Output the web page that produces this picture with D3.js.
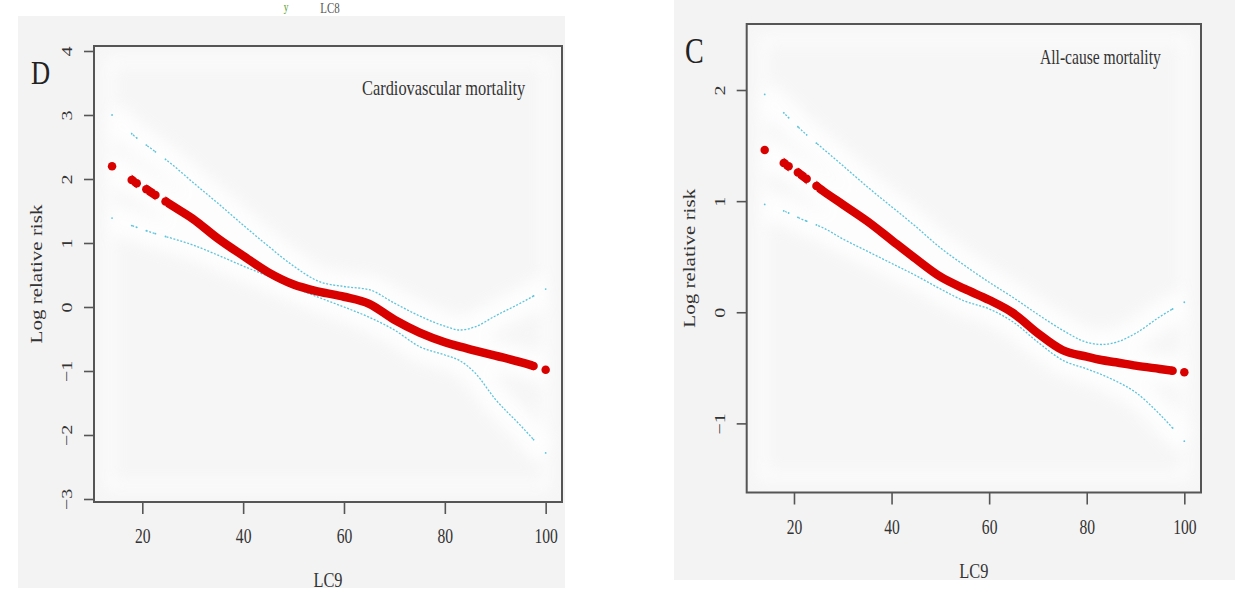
<!DOCTYPE html>
<html><head><meta charset="utf-8">
<script src="https://cdn.jsdelivr.net/npm/d3@7"></script>
<style>body{margin:0;background:#fff}svg{display:block}</style>
</head><body>
<svg id="c" width="1235" height="590"></svg>
<script>
// ---------------- data ----------------
const xTicks = [20, 40, 60, 80, 100];
const cvdYTicks = [-3, -2, -1, 0, 1, 2, 3, 4];
const allYTicks = [-1, 0, 1, 2];

const lc9Grid  = [14, 18, 22, 26, 30, 35, 40, 45, 50, 55, 60, 65, 70, 75, 80, 83, 86, 90, 95, 100];
const cvdFit   = [2.20, 1.98, 1.78, 1.58, 1.38, 1.07, 0.80, 0.54, 0.35, 0.24, 0.16, 0.05, -0.20, -0.40, -0.55, -0.62, -0.68, -0.76, -0.86, -0.98];
const cvdUpper = [3.00, 2.70, 2.46, 2.22, 1.95, 1.62, 1.28, 0.95, 0.64, 0.40, 0.32, 0.27, 0.06, -0.14, -0.30, -0.36, -0.31, -0.14, 0.06, 0.28];
const cvdLower = [1.39, 1.27, 1.16, 1.07, 0.97, 0.81, 0.64, 0.48, 0.31, 0.15, 0.00, -0.16, -0.36, -0.62, -0.75, -0.84, -1.03, -1.44, -1.85, -2.28];
const allFit   = [1.46, 1.34, 1.22, 1.09, 0.97, 0.82, 0.65, 0.48, 0.32, 0.21, 0.11, -0.01, -0.19, -0.34, -0.40, -0.43, -0.45, -0.48, -0.51, -0.54];
const allUpper = [1.96, 1.79, 1.62, 1.47, 1.32, 1.13, 0.95, 0.77, 0.58, 0.42, 0.27, 0.13, -0.02, -0.16, -0.27, -0.29, -0.27, -0.19, -0.04, 0.09];
const allLower = [0.97, 0.91, 0.83, 0.76, 0.66, 0.55, 0.44, 0.33, 0.21, 0.10, 0.03, -0.09, -0.27, -0.43, -0.51, -0.56, -0.62, -0.72, -0.92, -1.16];
// LC9 ranges where observations exist (curve drawn only there)
const observedRanges = [[14, 14], [17.9, 18.9], [20.8, 22.6], [24.6, 97.6], [100, 100]];

// ---------------- drawing ----------------
const svg = d3.select('#c');
const SQ = 0.78;
const FONT = '"Liberation Serif","Times New Roman","DejaVu Serif",serif';
const RED = '#d90000', BLUE = '#5cc4dc', INK = '#333';

const defs = svg.append('defs');
defs.append('filter').attr('id', 'blur').attr('x', '-20%').attr('y', '-20%').attr('width', '140%').attr('height', '140%')
  .append('feGaussianBlur').attr('stdDeviation', 7);

// stray text from the figure above
svg.append('text').attr('transform', `translate(286,11) scale(${SQ},1)`).attr('font-family', FONT)
  .attr('font-size', 12).attr('fill', '#5aa02c').attr('text-anchor', 'middle').text('y');
svg.append('text').attr('transform', `translate(330,13) scale(${SQ},1)`).attr('font-family', FONT)
  .attr('font-size', 14).attr('fill', '#555').attr('text-anchor', 'middle').text('LC8');

function txt(g, x, y, s, o) {
  return g.append('text')
    .attr('transform', `translate(${x},${y}) scale(${SQ},1)` + (o.rot ? ' rotate(-90)' : ''))
    .attr('text-anchor', o.anchor || 'middle')
    .attr('font-family', FONT).attr('font-size', o.size)
    .attr('fill', o.fill || INK).text(s);
}

function pointAtX(node, px) {
  const total = node.getTotalLength();
  let lo = 0, hi = total;
  for (let i = 0; i < 40; i++) {
    const m = (lo + hi) / 2;
    if (node.getPointAtLength(m).x < px) lo = m; else hi = m;
  }
  return node.getPointAtLength((lo + hi) / 2);
}

function panel(cfg) {
  const g = svg.append('g');
  g.append('rect').attr('x', cfg.bg[0]).attr('y', cfg.bg[1]).attr('width', cfg.bg[2]).attr('height', cfg.bg[3]).attr('fill', '#f3f3f3');

  const x = d3.scaleLinear().domain(cfg.xdom).range([cfg.x0, cfg.x1]);
  const y = d3.scaleLinear().domain(cfg.ydom).range([cfg.y1, cfg.y0]);

  g.append('rect').attr('x', cfg.x0).attr('y', cfg.y0).attr('width', cfg.x1 - cfg.x0).attr('height', cfg.y1 - cfg.y0).attr('fill', '#f6f6f6');

  const line = d3.line().x(d => x(d[0])).y(d => y(d[1])).curve(d3.curveMonotoneX);
  const fitPts = lc9Grid.map((v, i) => [v, cfg.fit[i]]);
  const upPts = lc9Grid.map((v, i) => [v, cfg.upper[i]]);
  const loPts = lc9Grid.map((v, i) => [v, cfg.lower[i]]);

  // soft white halo (background artefacts of the original)
  const halo = g.append('g').attr('filter', 'url(#blur)').attr('opacity', 0.85);
  halo.append('rect').attr('x', cfg.x0 + 16).attr('y', cfg.y0 + 16).attr('width', cfg.x1 - cfg.x0 - 32).attr('height', cfg.y1 - cfg.y0 - 32)
    .attr('fill', 'none').attr('stroke', '#fff').attr('stroke-width', 8);
  [upPts, loPts, fitPts].forEach(p => halo.append('path').attr('d', line(p)).attr('fill', 'none').attr('stroke', '#fff').attr('stroke-width', 30));

  // clip to observed ranges
  const cid = 'clip' + cfg.id;
  const cp = defs.append('clipPath').attr('id', cid);
  observedRanges.filter(r => r[1] > r[0]).forEach(r => {
    cp.append('rect').attr('x', x(r[0])).attr('y', cfg.y0).attr('width', x(r[1]) - x(r[0])).attr('height', cfg.y1 - cfg.y0);
  });

  function drawCurve(pts, stroke, width, dash, capR) {
    const p = g.append('path').attr('d', line(pts)).attr('fill', 'none').attr('stroke', stroke)
      .attr('stroke-width', width).attr('clip-path', `url(#${cid})`);
    if (dash) p.attr('stroke-dasharray', dash);
    const node = p.node();
    observedRanges.forEach(r => {
      const ends = r[1] > r[0] ? [r[0], r[1]] : [r[0]];
      ends.forEach(v => {
        const pt = pointAtX(node, x(v));
        g.append('circle').attr('cx', pt.x).attr('cy', pt.y).attr('r', capR).attr('fill', stroke);
      });
    });
  }
  drawCurve(upPts, BLUE, 1.3, '2,1.6', 0.9);
  drawCurve(loPts, BLUE, 1.3, '2,1.6', 0.9);
  drawCurve(fitPts, RED, 8.5, null, 4.25);

  // frame
  g.append('rect').attr('x', cfg.x0).attr('y', cfg.y0).attr('width', cfg.x1 - cfg.x0).attr('height', cfg.y1 - cfg.y0)
    .attr('fill', 'none').attr('stroke', '#555').attr('stroke-width', 2);

  // axes
  const ax = g.append('g').attr('transform', `translate(0,${cfg.y1})`)
    .call(d3.axisBottom(x).tickValues(xTicks).tickSize(12).tickFormat(d3.format('d')));
  const ay = g.append('g').attr('transform', `translate(${cfg.x0},0)`)
    .call(d3.axisLeft(y).tickValues(cfg.yTicks).tickSize(10).tickFormat(d3.format('d')));
  [ax, ay].forEach(a => {
    a.select('.domain').remove();
    a.selectAll('line').attr('stroke', '#555').attr('stroke-width', 1.6);
  });
  ax.selectAll('text').attr('y', null).attr('dy', null)
    .attr('transform', `translate(0,41) scale(${SQ},1)`)
    .attr('font-family', FONT).attr('font-size', 20).attr('fill', INK);
  ay.selectAll('text').attr('x', null).attr('dy', null)
    .attr('transform', `translate(-22,0) scale(${SQ},1) rotate(-90)`)
    .attr('text-anchor', 'middle')
    .attr('font-family', FONT).attr('font-size', 20).attr('fill', INK);

  // titles
  txt(g, (cfg.x0 + cfg.x1) / 2, cfg.y1 + 85, 'LC9', { size: 21 });
  txt(g, cfg.x0 - 52, (cfg.y0 + cfg.y1) / 2, 'Log relative risk', { size: 21, rot: true });
  txt(g, cfg.letter[0], cfg.letter[1], cfg.letter[2], { size: cfg.letter[3], anchor: 'start', fill: '#222' });
  txt(g, cfg.note[0], cfg.note[1], cfg.note[2], { size: cfg.note[3], anchor: 'start', fill: '#333' });
}

panel({
  id: 'D', bg: [18, 16, 547, 572],
  x0: 94, x1: 562, y0: 46, y1: 502,
  xdom: [10.42, 103.24], ydom: [-3.047, 4.078],
  yTicks: cvdYTicks, fit: cvdFit, upper: cvdUpper, lower: cvdLower,
  letter: [31, 84, 'D', 34], note: [362, 95, 'Cardiovascular mortality', 21]
});
panel({
  id: 'C', bg: [674, 0, 561, 580],
  x0: 746.7, x1: 1201, y0: 24, y1: 492.5,
  xdom: [10.31, 103.42], ydom: [-1.622, 2.594],
  yTicks: allYTicks, fit: allFit, upper: allUpper, lower: allLower,
  letter: [685, 63, 'C', 36], note: [1040, 64, 'All-cause mortality', 20]
});
</script>
</body></html>
